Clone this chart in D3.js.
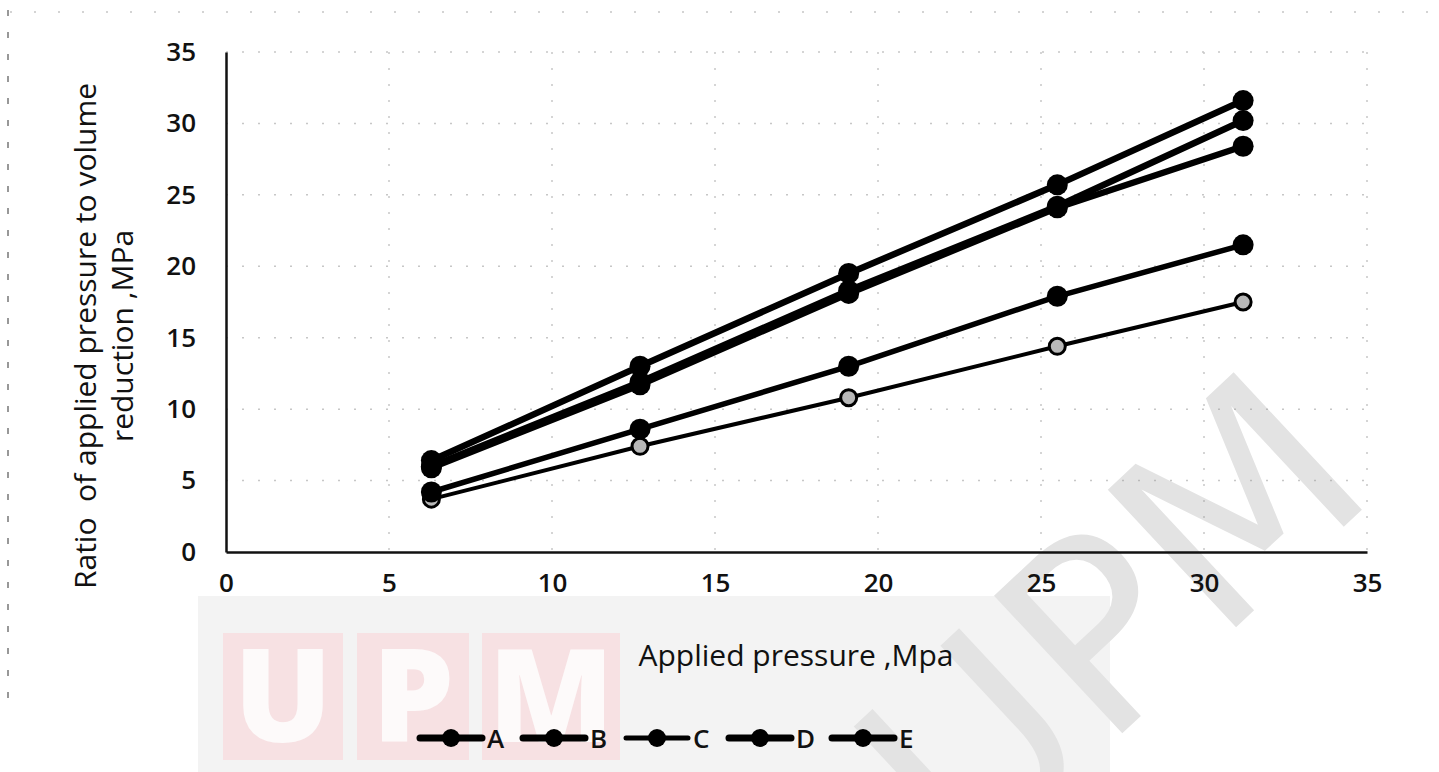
<!DOCTYPE html>
<html>
<head>
<meta charset="utf-8">
<script src="https://cdn.jsdelivr.net/npm/d3@7"></script>
<style>
  body { margin: 0; background: #fff; }
  text { font-family: "Open Sans", Lato, sans-serif; }
</style>
</head>
<body>
<svg id="chart" width="1439" height="772"></svg>
<script>
"use strict";

// values
const pressure = [6.3, 12.7, 19.1, 25.5, 31.2];
const seriesA = [6.4, 13.0, 19.5, 25.7, 31.6];
const seriesB = [6.0, 11.9, 18.3, 24.2, 30.2];
const seriesC = [3.7, 7.4, 10.8, 14.4, 17.5];
const seriesD = [5.9, 11.7, 18.1, 24.1, 28.4];
const seriesE = [4.2, 8.6, 13.0, 17.9, 21.5];
const names = ["A", "B", "C", "D", "E"];
const xTicks = [0, 5, 10, 15, 20, 25, 30, 35];
const yTicks = [0, 5, 10, 15, 20, 25, 30, 35];

const series = [
    {name: "A", vals: seriesA, width: 6.5, fill: "#000"},
    {name: "B", vals: seriesB, width: 6.5, fill: "#000"},
    {name: "C", vals: seriesC, width: 4, fill: "#b8b8b8"},
    {name: "D", vals: seriesD, width: 6.5, fill: "#000"},
    {name: "E", vals: seriesE, width: 5.5, fill: "#000"}
];

const svg = d3.select("#chart");

const x = d3.scaleLinear().domain([0, 35]).range([226, 1367]);
const y = d3.scaleLinear().domain([0, 35]).range([552, 52]);

// watermark background
const wm = svg.append("g");
wm.append("rect").attr("x", 198).attr("y", 596).attr("width", 912).attr("height", 176).attr("fill", "#f3f3f3");
const boxes = [[223, 120, "U"], [357, 112, "P"], [482, 138, "M"]];
boxes.forEach(function(b) {
    wm.append("rect").attr("x", b[0]).attr("y", 633).attr("width", b[1]).attr("height", 127).attr("fill", "#f7e1e3");
    wm.append("text").attr("x", b[0] + b[1] / 2).attr("y", 742)
      .attr("text-anchor", "middle").attr("font-size", 130).attr("font-weight", 800)
      .attr("fill", "#fdfafa").text(b[2]);
});
wm.append("text")
  .attr("transform", "translate(1173,686) rotate(-43)")
  .attr("text-anchor", "middle")
  .attr("font-size", 258)
  .attr("fill", "#e3e3e3")
  .style("font-family", "DejaVu Sans")
  .text("UPM");

// faint dotted grid
const grid = svg.append("g").attr("stroke", "#9a9a9a").attr("stroke-width", 1.5)
    .attr("stroke-dasharray", "2,14").attr("opacity", 0.55);
grid.selectAll(".gx").data(xTicks.slice(1)).enter().append("line")
    .attr("x1", d => x(d)).attr("x2", d => x(d)).attr("y1", y(35)).attr("y2", y(0));
grid.selectAll(".gy").data(yTicks.slice(1)).enter().append("line")
    .attr("x1", x(0)).attr("x2", x(35)).attr("y1", d => y(d)).attr("y2", d => y(d));

// scan frame leftovers
svg.append("line").attr("x1", 8).attr("x2", 8).attr("y1", 10).attr("y2", 700)
   .attr("stroke", "#777").attr("stroke-width", 1.5).attr("stroke-dasharray", "6,16");
svg.append("line").attr("x1", 10).attr("x2", 1439).attr("y1", 12).attr("y2", 12)
   .attr("stroke", "#aaa").attr("stroke-width", 1.2).attr("stroke-dasharray", "2,22");

// axes
const xAxis = svg.append("g").attr("transform", "translate(0," + y(0) + ")")
    .call(d3.axisBottom(x).tickValues(xTicks).tickSize(0).tickPadding(22));
xAxis.select(".domain").attr("stroke", "#111").attr("stroke-width", 2.5);
xAxis.selectAll("text").attr("font-size", 26).attr("font-weight", 600).attr("fill", "#111")
    .style("font-family", "'Open Sans', sans-serif");

const yAxis = svg.append("g").attr("transform", "translate(" + x(0) + ",0)")
    .call(d3.axisLeft(y).tickValues(yTicks).tickSize(0).tickPadding(30));
yAxis.select(".domain").attr("stroke", "#111").attr("stroke-width", 2.5);
yAxis.selectAll("text").attr("font-size", 26).attr("font-weight", 600).attr("fill", "#111")
    .style("font-family", "'Open Sans', sans-serif");

// axis titles
svg.append("text").attr("x", 796).attr("y", 666).attr("text-anchor", "middle")
   .attr("font-size", 30).attr("fill", "#111").text("Applied pressure ,Mpa");
const yt = svg.append("text").attr("transform", "translate(96,336) rotate(-90)")
   .attr("text-anchor", "middle").attr("font-size", 30).attr("fill", "#111")
   .style("white-space", "pre");
yt.append("tspan").attr("x", 0).attr("dy", 0).text("Ratio  of applied pressure to volume");
yt.append("tspan").attr("x", 0).attr("dy", 37).text("reduction ,MPa");

// lines and markers
const line = d3.line().x(d => x(d[0])).y(d => y(d[1]));
const groups = svg.selectAll(".series").data(series).enter().append("g").attr("class", "series");
groups.append("path")
    .attr("d", d => line(pressure.map((p, i) => [p, d.vals[i]])))
    .attr("fill", "none").attr("stroke", "#000").attr("stroke-width", d => d.width)
    .attr("stroke-linejoin", "round");
groups.each(function(s) {
    d3.select(this).selectAll("circle").data(pressure.map((p, i) => [p, s.vals[i]])).enter()
      .append("circle")
      .attr("cx", d => x(d[0])).attr("cy", d => y(d[1]))
      .attr("r", s.name === "C" ? 8 : 10.5)
      .attr("fill", s.fill).attr("stroke", "#000").attr("stroke-width", s.name === "C" ? 3 : 0);
});

// legend
const legend = svg.append("g").attr("transform", "translate(420,738)");
const items = legend.selectAll("g").data(series).enter().append("g")
    .attr("transform", (d, i) => "translate(" + (i * 103) + ",0)");
items.append("line").attr("x1", 0).attr("x2", 62).attr("y1", 0).attr("y2", 0)
    .attr("stroke", "#000").attr("stroke-width", d => d.name === "C" ? 5 : 7).attr("stroke-linecap", "round");
items.append("circle").attr("cx", 31).attr("cy", 0).attr("r", 9).attr("fill", "#000");
items.append("text").attr("x", 67).attr("y", 10).attr("font-size", 26).attr("font-weight", 600)
    .attr("fill", "#111").text((d, i) => names[i]);
</script>
</body>
</html>
